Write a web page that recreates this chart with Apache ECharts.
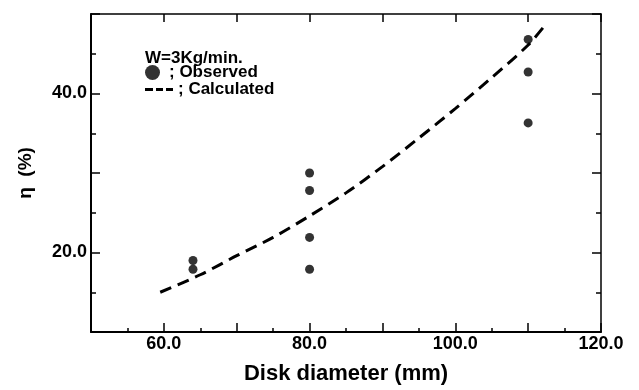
<!DOCTYPE html>
<html>
<head>
<meta charset="utf-8">
<script src="https://cdn.jsdelivr.net/npm/echarts@6/dist/echarts.min.js"></script>
<style>
  html, body { margin: 0; padding: 0; background: #fff; }
  #chart { width: 639px; height: 390px; }
</style>
</head>
<body>
<div id="chart"></div>
<script>
// observed points: [diameter, efficiency]
const observedX = [64, 64, 80, 80, 80, 80, 110, 110, 110];
const observedY = [19.0, 17.9, 30.0, 27.8, 21.9, 17.9, 46.8, 42.7, 36.3];

// calculated curve
const calcX = [59.5, 65, 70, 75, 80, 85, 90, 95, 100, 105, 110, 112.5];
const calcY = [15.0, 17.2, 19.6, 21.9, 24.6, 27.5, 30.8, 34.4, 38.1, 42.0, 46.1, 48.8];

const xLabels = [60, 80, 100, 120];
const yLabels = [20, 40];

const FONT = '"Liberation Sans", Arial, sans-serif';
const chart = echarts.init(document.getElementById('chart'));

const baseAxis = {
  axisLine: { lineStyle: { color: '#000', width: 2 } },
  splitLine: { show: false },
};

// three short dashes for the legend icon of the calculated curve
const dashIcon = 'path://M0,0h8v3h-8z M11,0h7v3h-7z M21,0h7v3h-7z';

chart.setOption({
  animation: false,
  backgroundColor: '#fff',
  textStyle: { fontFamily: FONT, color: '#000' },
  title: {
    text: 'W=3Kg/min.',
    left: 140, top: 45,
    textStyle: { fontSize: 17, fontWeight: 'bold', color: '#000', fontFamily: FONT },
  },
  legend: [
    {
      data: ['Observed'],
      left: 140, top: 59,
      itemWidth: 15, itemHeight: 15,
      formatter: '; {name}',
      textStyle: { fontSize: 17, fontWeight: 'bold', color: '#000', fontFamily: FONT, padding: [0, 0, 0, 4] },
    },
    {
      data: [{ name: 'Calculated', icon: dashIcon }],
      left: 140, top: 76,
      itemWidth: 28, itemHeight: 3,
      formatter: '; {name}',
      textStyle: { fontSize: 17, fontWeight: 'bold', color: '#000', fontFamily: FONT },
    },
  ],
  grid: { left: 91, right: 38, top: 14, bottom: 53 },
  xAxis: [
    {
      ...baseAxis,
      type: 'value', min: 50, max: 120, interval: 10,
      name: 'Disk diameter (mm)',
      nameLocation: 'middle', nameGap: 31,
      nameTextStyle: { fontSize: 22, fontWeight: 'bold', color: '#000', fontFamily: FONT },
      axisTick: { inside: true, length: 9, lineStyle: { color: '#000', width: 1.5 } },
      minorTick: { show: true, splitNumber: 2, length: 4, lineStyle: { color: '#000', width: 1.5 } },
      axisLabel: {
        margin: 3, fontSize: 18, fontWeight: 'bold', color: '#000', fontFamily: FONT,
        formatter: v => xLabels.includes(v) ? v.toFixed(1) : '',
      },
    },
    {
      ...baseAxis,
      type: 'value', min: 50, max: 120, interval: 10, position: 'top',
      axisLine: { lineStyle: { color: '#000', width: 1.5 } },
      axisTick: { inside: true, length: 8, lineStyle: { color: '#000', width: 1.5 } },
      axisLabel: { show: false },
    },
  ],
  yAxis: [
    {
      ...baseAxis,
      type: 'value', min: 10, max: 50, interval: 10,
      name: 'η  (%)',
      nameLocation: 'middle', nameGap: 56, nameRotate: 90,
      nameTextStyle: { fontSize: 19, fontWeight: 'bold', color: '#000', fontFamily: FONT },
      axisTick: { inside: true, length: 9, lineStyle: { color: '#000', width: 1.5 } },
      minorTick: { show: true, splitNumber: 2, length: 5, lineStyle: { color: '#000', width: 1.5 } },
      axisLabel: {
        margin: 4, fontSize: 18, fontWeight: 'bold', color: '#000', fontFamily: FONT,
        formatter: v => yLabels.includes(v) ? v.toFixed(1) : '',
      },
    },
    {
      ...baseAxis,
      type: 'value', min: 10, max: 50, interval: 10, position: 'right',
      axisLine: { lineStyle: { color: '#000', width: 1.5 } },
      axisTick: { inside: true, length: 9, lineStyle: { color: '#000', width: 1.5 } },
      minorTick: { show: true, splitNumber: 2, length: 5, lineStyle: { color: '#000', width: 1.5 } },
      axisLabel: { show: false },
    },
  ],
  series: [
    {
      name: 'Observed',
      type: 'scatter',
      symbol: 'circle',
      symbolSize: 9,
      itemStyle: { color: '#000' },
      data: observedX.map((x, i) => [x, observedY[i]]),
    },
    {
      name: 'Calculated',
      type: 'line',
      smooth: 0.3,
      symbol: 'none',
      itemStyle: { color: '#000' },
      lineStyle: { color: '#000', width: 3, type: [12, 7] },
      data: calcX.map((x, i) => [x, calcY[i]]),
    },
  ],
});
</script>
</body>
</html>
